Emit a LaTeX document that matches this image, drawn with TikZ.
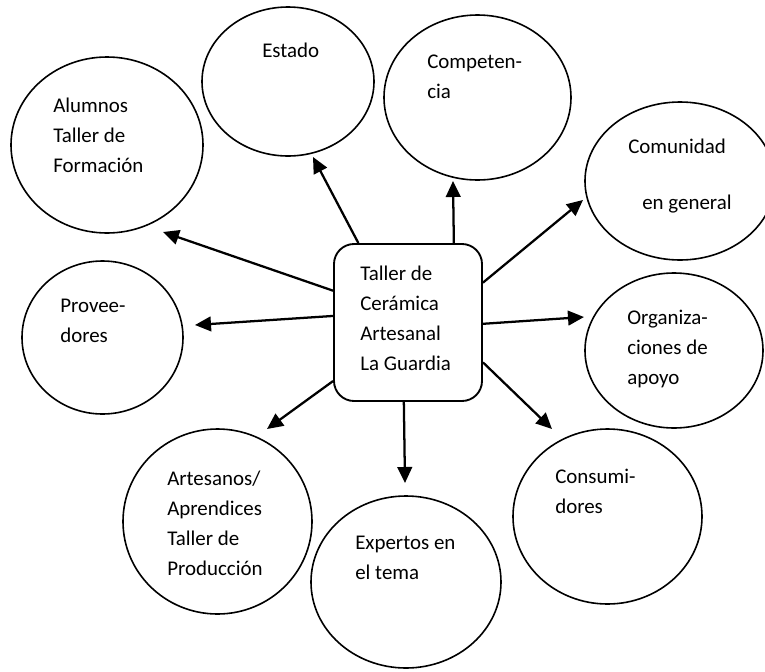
\documentclass[tikz,border=0pt]{standalone}
\usepackage{fontspec}
\setmainfont{Carlito}
\usetikzlibrary{arrows.meta,shapes.geometric}
\begin{document}
\begin{tikzpicture}[x=0.75pt,y=-0.75pt,
  actor/.style={draw,ellipse,inner sep=0pt,line width=1.2pt},
  hub/.style={draw,rectangle,rounded corners=15pt,line width=1.4pt,
    minimum width=111pt,minimum height=117.75pt,inner sep=0pt},
  % labels are placed by the baseline of their last line
  lbl/.style={anchor=base west,align=left,inner sep=0pt,
    font=\fontsize{15.7}{22.5}\selectfont},
  link/.style={line width=1.7pt,-{Triangle[length=12pt,width=11pt]}}]
\useasboundingbox (0,0) rectangle (765,672);

% central workshop
\node[hub] (taller) at (408,322.5) {};
\node[lbl] (tallerT) at (360,370) {Taller de\\Cerámica\\Artesanal\\La Guardia};

% stakeholder ellipses
\node[actor,minimum width=129pt,minimum height=111.75pt] (estado) at (288,81.5) {};
\node[actor,minimum width=144pt,minimum height=132pt] (alumnos) at (107,145) {};
\node[actor,minimum width=140.25pt,minimum height=123.75pt] (compet) at (477.5,97.5) {};
\node[actor,minimum width=142.5pt,minimum height=118.5pt] (comun) at (680,181) {};
\node[actor,minimum width=133.5pt,minimum height=116.25pt] (organiz) at (674,350.5) {};
\node[actor,minimum width=120.75pt,minimum height=114.75pt] (provee) at (102.5,337.5) {};
\node[actor,minimum width=141.75pt,minimum height=138.75pt] (artes) at (217.5,521.5) {};
\node[actor,minimum width=142.5pt,minimum height=129pt] (expert) at (406,582) {};
\node[actor,minimum width=141.75pt,minimum height=131.25pt] (consum) at (607.5,516.5) {};

% labels
\node[lbl] (estadoT) at (262,57) {Estado};
\node[lbl] (alumnosT) at (53,172) {Alumnos\\Taller de\\Formación};
\node[lbl] (competT) at (427,98.5) {Competen-\\cia};
\node[lbl] (comunT) at (628,209) {Comunidad\\[19.5pt]\hspace*{10.5pt}en general};
\node[lbl] (organizT) at (627,384) {Organiza-\\ciones de\\apoyo};
\node[lbl] (proveeT) at (60,342.5) {Provee-\\dores};
\node[lbl] (artesT) at (167,575.5) {Artesanos/\\Aprendices\\Taller de\\Producción};
\node[lbl] (expertT) at (355,579.5) {Expertos en\\el tema};
\node[lbl] (consumT) at (555,513) {Consumi-\\dores};

% arrow tips
\coordinate (tEstado) at (313,157);
\coordinate (tAlumnos) at (163,232);
\coordinate (tProvee) at (195,325);
\coordinate (tArtes) at (267,429);
\coordinate (tExpert) at (405,483);
\coordinate (tConsum) at (552,429);
\coordinate (tOrganiz) at (584,317);
\coordinate (tComun) at (583,200);
\coordinate (tCompet) at (453,181);

% relations
\draw[link] (taller.122.5) -- (tEstado);
\draw[link] (taller.60.2) -- (tCompet);
\draw[link] (taller.157.6) -- (tAlumnos);
\draw[link] (taller.175.7) -- (tProvee);
\draw[link] (taller.218.8) -- (tArtes);
\draw[link] (taller.267.8) -- (tExpert);
\draw[link] (taller.-28.7) -- (tConsum);
\draw[link] (taller.-1.9) -- (tOrganiz);
\draw[link] (taller.28.7) -- (tComun);
\end{tikzpicture}
\end{document}
